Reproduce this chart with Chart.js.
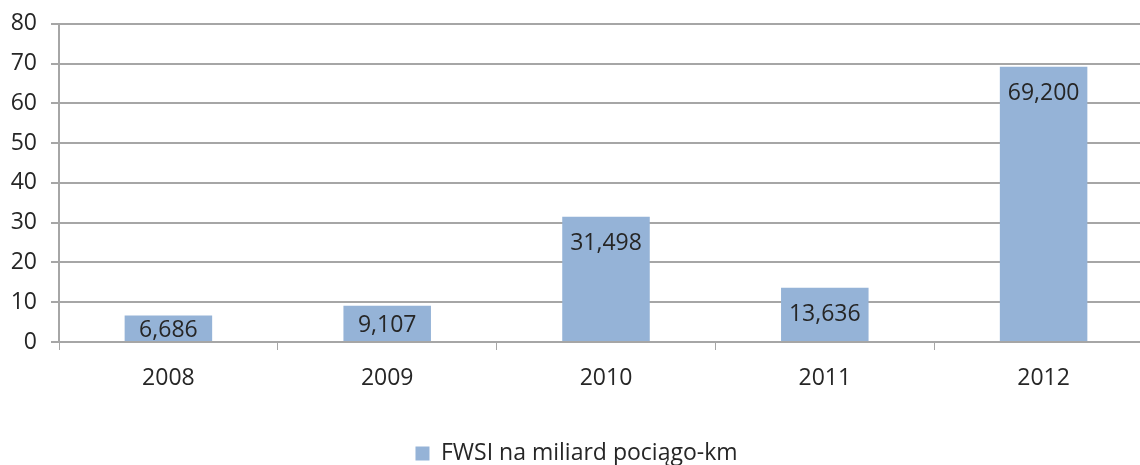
<!DOCTYPE html>
<html>
<head>
<meta charset="utf-8">
<script src="https://cdn.jsdelivr.net/npm/chart.js@4/dist/chart.umd.min.js"></script>
<style>
    html, body { margin: 0; padding: 0; background: #fff; overflow: hidden; }
    #wrap { width: 1140px; height: 465px; overflow: hidden; }
    #box { width: 1160px; height: 465px; }
</style>
</head>
<body>
<div id="wrap"><div id="box"><canvas id="chart"></canvas></div></div>
<script>
const years = ['2008', '2009', '2010', '2011', '2012'];
const fwsi = [6.686, 9.107, 31.498, 13.636, 69.200];
const seriesLabel = 'FWSI na miliard pociągo-km';
const yMin = 0, yMax = 80, yStep = 10;

const fontFamily = '"Open Sans", sans-serif';
const fontSize = 23;
const textColor = '#262626';
const gridColor = '#a6a6a6';

// value labels inside the top of each bar, polish decimal comma
const barLabels = {
    id: 'barLabels',
    afterDatasetsDraw(chart) {
        const ctx = chart.ctx;
        const meta = chart.getDatasetMeta(0);
        ctx.save();
        ctx.font = fontSize + 'px ' + fontFamily;
        ctx.fillStyle = textColor;
        ctx.textAlign = 'center';
        ctx.textBaseline = 'middle';
        meta.data.forEach((bar, i) => {
            const mid = (bar.y + bar.base) / 2 + 2;
            const y = Math.min(bar.y + 27, mid);
            ctx.fillText(fwsi[i].toFixed(3).replace('.', ','), bar.x, y);
        });
        ctx.restore();
    }
};

new Chart(document.getElementById('chart').getContext('2d'), {
    type: 'bar',
    data: {
        labels: years,
        datasets: [{
            label: seriesLabel,
            data: fwsi,
            backgroundColor: '#95b3d7',
            categoryPercentage: 0.4,
            barPercentage: 1.0,
        }],
    },
    options: {
        responsive: true,
        maintainAspectRatio: false,
        animation: false,
        layout: { padding: { left: 0, right: 7, top: 4, bottom: -10 } },
        scales: {
            x: {
                grid: { offset: true, drawOnChartArea: false, drawTicks: true, tickLength: 8, color: gridColor, tickColor: gridColor },
                border: { display: true, color: gridColor, width: 2 },
                ticks: { color: textColor, font: { family: fontFamily, size: fontSize }, padding: 15 },
                afterFit: s => { s.height = 100; },
            },
            y: {
                min: yMin,
                max: yMax,
                ticks: { stepSize: yStep, color: textColor, font: { family: fontFamily, size: fontSize, lineHeight: 0.85 }, padding: 14 },
                grid: { color: gridColor, lineWidth: 2, tickLength: 8, tickColor: gridColor },
                border: { display: true, color: gridColor, width: 2 },
                afterFit: s => { s.width = 59; },
            },
        },
        plugins: {
            legend: {
                position: 'bottom',
                labels: { color: textColor, font: { family: fontFamily, size: fontSize }, boxWidth: 14, boxHeight: 14, padding: 0 },
            },
            tooltip: { enabled: false },
        },
    },
    plugins: [barLabels],
});
</script>
</body>
</html>
